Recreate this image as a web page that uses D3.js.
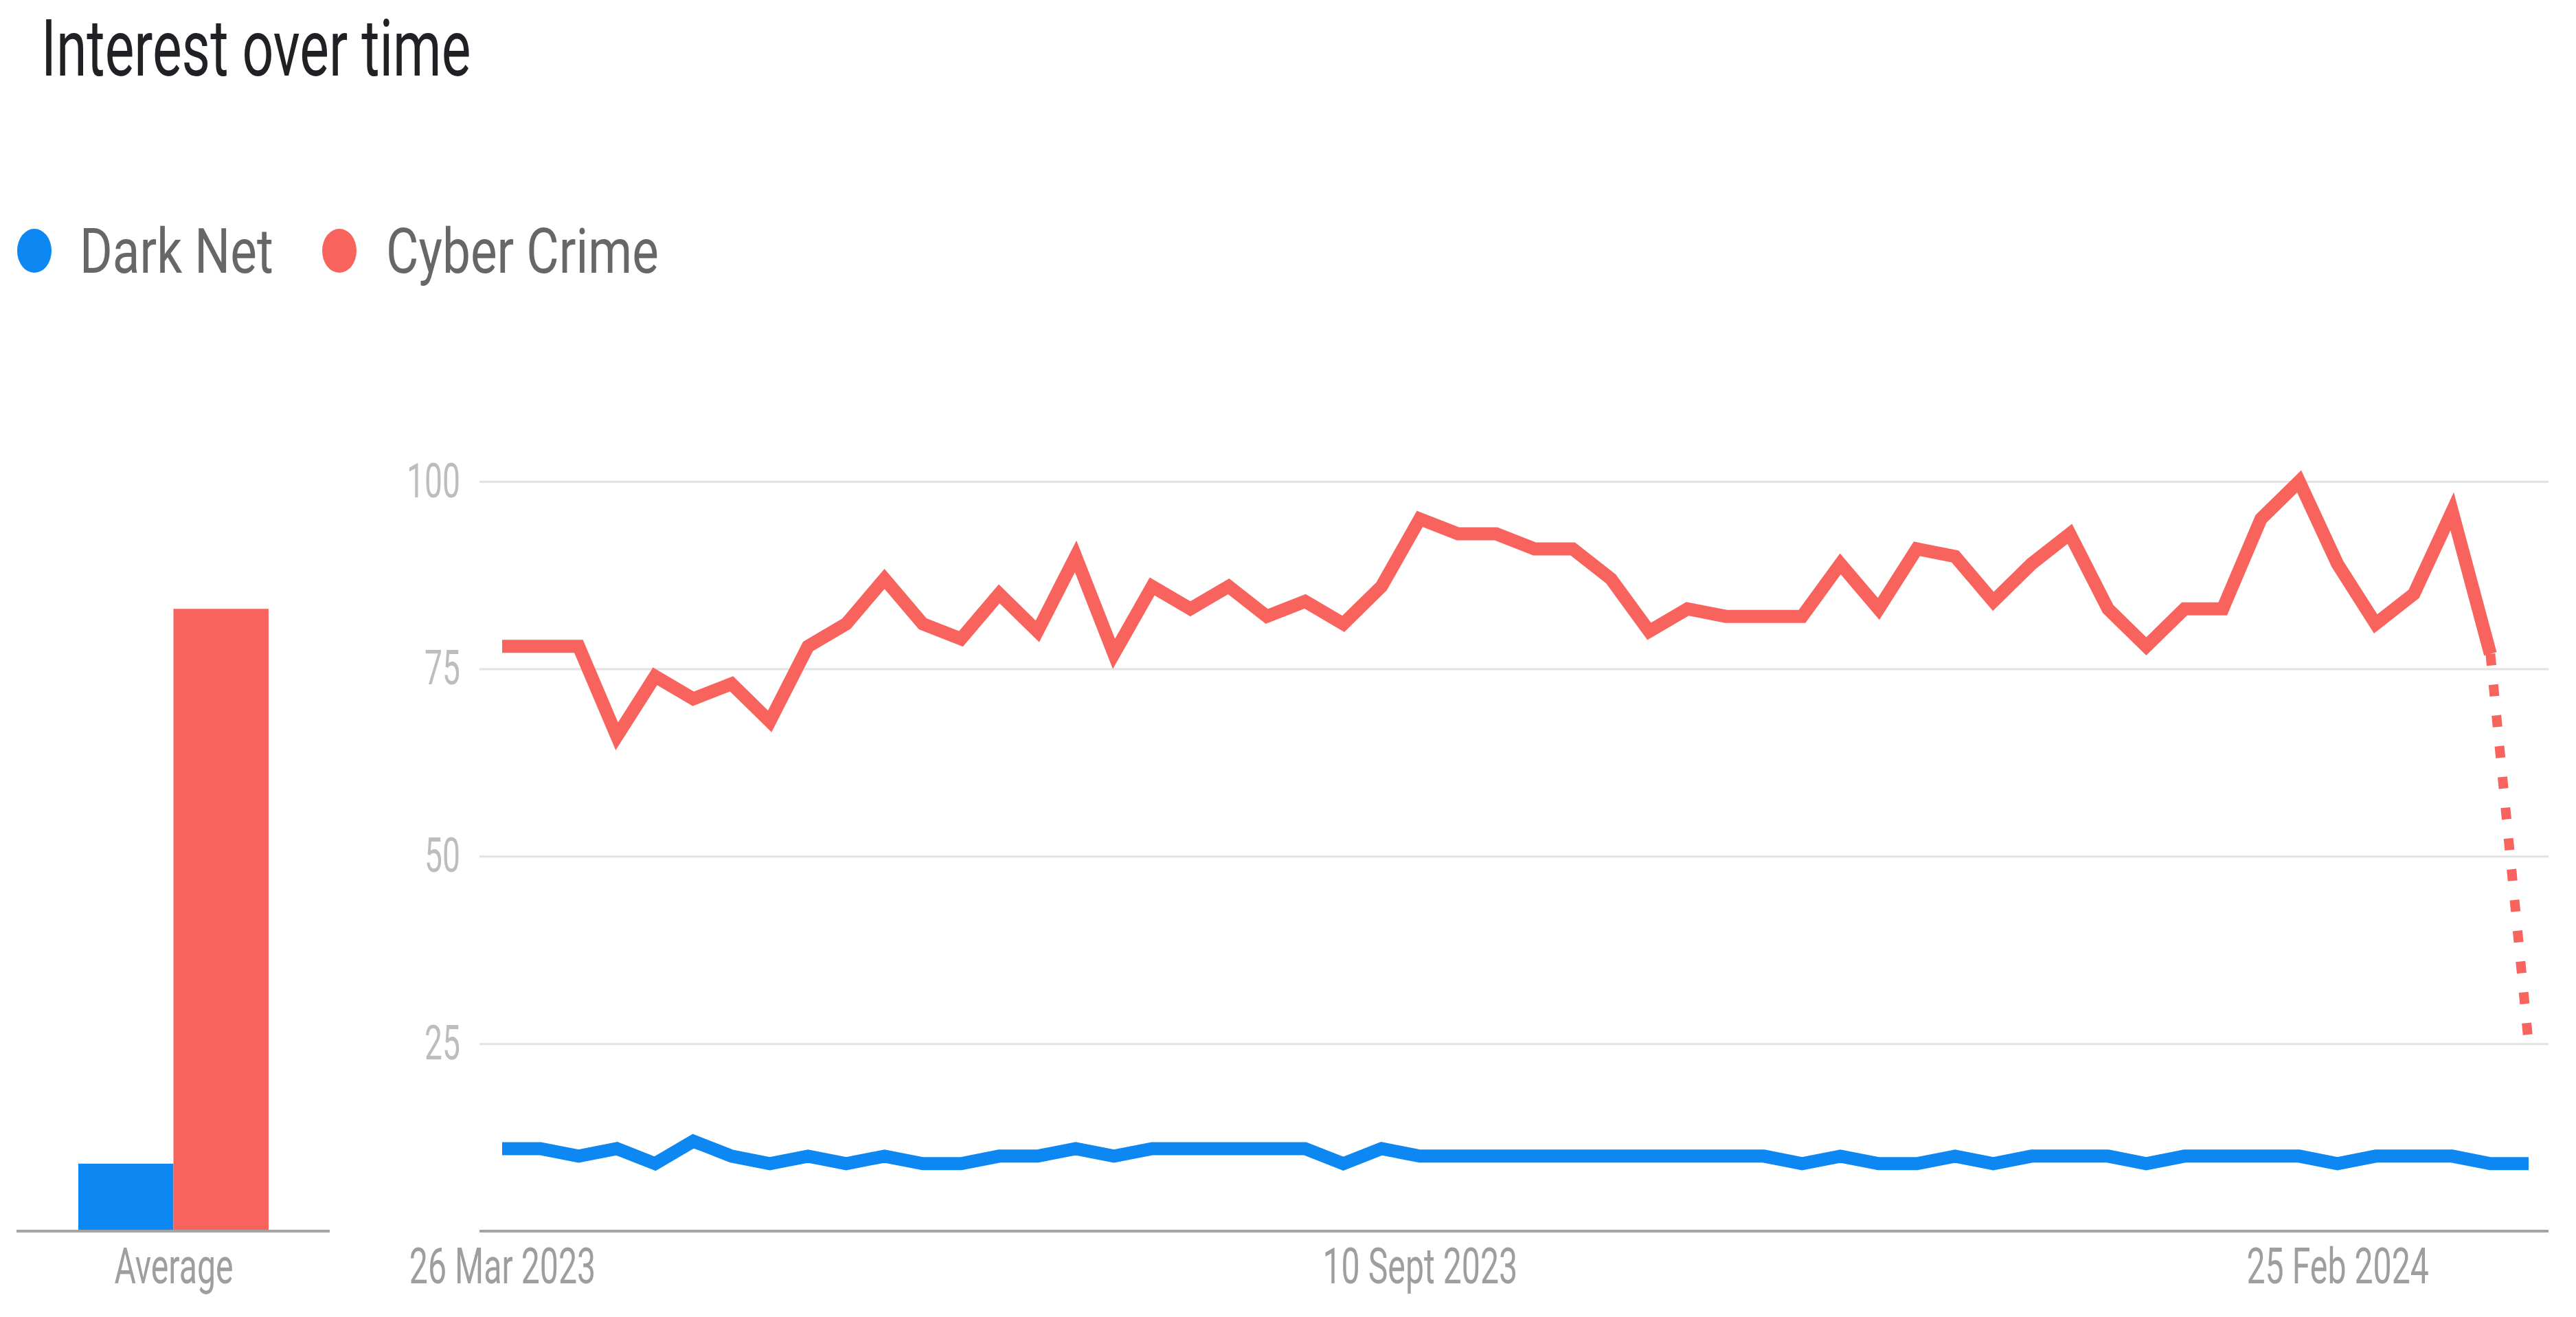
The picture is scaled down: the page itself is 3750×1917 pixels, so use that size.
<!DOCTYPE html>
<html>
<head>
<meta charset="utf-8">
<script src="https://cdn.jsdelivr.net/npm/d3@7"></script>
<style>
  html, body { margin: 0; padding: 0; background: #ffffff; }
  svg { display: block; font-family: Roboto, "Noto Sans", Arial, sans-serif; }
</style>
</head>
<body>
<svg id="chart" width="3750" height="1917"></svg>
<script>
// ---------------- DATA ----------------
const seriesNames = ["Dark Net", "Cyber Crime"];
const seriesColors = ["#0d87f2", "#f8645d"];

const dates = [
  "2023-03-26","2023-04-02","2023-04-09","2023-04-16","2023-04-23","2023-04-30",
  "2023-05-07","2023-05-14","2023-05-21","2023-05-28","2023-06-04","2023-06-11",
  "2023-06-18","2023-06-25","2023-07-02","2023-07-09","2023-07-16","2023-07-23",
  "2023-07-30","2023-08-06","2023-08-13","2023-08-20","2023-08-27","2023-09-03",
  "2023-09-10","2023-09-17","2023-09-24","2023-10-01","2023-10-08","2023-10-15",
  "2023-10-22","2023-10-29","2023-11-05","2023-11-12","2023-11-19","2023-11-26",
  "2023-12-03","2023-12-10","2023-12-17","2023-12-24","2023-12-31","2024-01-07",
  "2024-01-14","2024-01-21","2024-01-28","2024-02-04","2024-02-11","2024-02-18",
  "2024-02-25","2024-03-03","2024-03-10","2024-03-17","2024-03-24","2024-03-31"
];

const darkNet = [
  11,11,10,11,9,12,10,9,10,9,10,9,9,10,10,11,10,11,11,11,11,11,9,11,
  10,10,10,10,10,10,10,10,10,10,9,10,9,9,10,9,10,10,10,9,10,10,10,10,
  9,10,10,10,9,9
];

const cyberCrime = [
  78,78,78,66,74,71,73,68,78,81,87,81,79,85,80,90,77,86,83,86,82,84,81,86,
  95,93,93,91,91,87,80,83,82,82,82,89,83,91,90,84,89,93,83,78,83,83,95,100,
  89,81,85,96,77,25
];

// index of the last complete week (after it the line is drawn dotted)
const lastCompleteIndex = 52;

const averageLabel = "Average";
const averages = [9, 83];

const yTicks = [25, 50, 75, 100];
const xTickDates = ["2023-03-26", "2023-09-10", "2024-02-25"];
const xTickLabels = ["26 Mar 2023", "10 Sept 2023", "25 Feb 2024"];

const titleText = "Interest over time";

// ---------------- DRAW ----------------
const svg = d3.select("#chart");
const parse = d3.timeParse("%Y-%m-%d");

// horizontal squeeze helper (reference text is condensed)
function squeeze(sel, k) {
  sel.each(function() {
    const w = this.getComputedTextLength();
    d3.select(this).attr("textLength", w * k).attr("lengthAdjust", "spacingAndGlyphs");
  });
}

// Title
svg.append("text")
  .attr("x", 60).attr("y", 110)
  .attr("font-size", 115)
  .attr("fill", "#202124")
  .text(titleText)
  .call(squeeze, 0.70);

// Legend
const legendPos = [{cx: 50, tx: 116}, {cx: 494, tx: 562}];
const legend = svg.append("g");
seriesNames.forEach((name, i) => {
  legend.append("ellipse")
    .attr("cx", legendPos[i].cx).attr("cy", 365)
    .attr("rx", 25).attr("ry", 32)
    .attr("fill", seriesColors[i]);
  legend.append("text")
    .attr("x", legendPos[i].tx).attr("y", 397)
    .attr("font-size", 90)
    .attr("fill", "#676767")
    .text(name)
    .call(squeeze, 0.81);
});

// Shared y scale
const y = d3.scaleLinear().domain([0, 100]).range([1792, 700.7]);

// ---- Left: average bars ----
const xb = d3.scaleBand().domain(seriesNames).range([114, 391]).padding(0);
svg.append("g").selectAll("rect")
  .data(averages)
  .join("rect")
  .attr("x", (d, i) => xb(seriesNames[i]))
  .attr("width", xb.bandwidth())
  .attr("y", d => y(d))
  .attr("height", d => y(0) - y(d))
  .attr("fill", (d, i) => seriesColors[i]);

svg.append("line")
  .attr("x1", 24).attr("x2", 480)
  .attr("y1", y(0)).attr("y2", y(0))
  .attr("stroke", "#a3a3a3").attr("stroke-width", 4);

svg.append("text")
  .attr("x", 253).attr("y", 1868)
  .attr("text-anchor", "middle")
  .attr("font-size", 72)
  .attr("fill", "#9e9e9e")
  .text(averageLabel)
  .call(squeeze, 0.67);

// ---- Right: time series ----
const plotLeft = 698, plotRight = 3710;
const x = d3.scaleTime()
  .domain([parse(dates[0]), parse(dates[dates.length - 1])])
  .range([731, 3681]);

// y axis / gridlines
const yAxis = d3.axisLeft(y)
  .tickValues(yTicks)
  .tickSize(-(plotRight - plotLeft))
  .tickPadding(28);
const gy = svg.append("g")
  .attr("transform", `translate(${plotLeft},0)`)
  .call(yAxis);
gy.select(".domain").remove();
gy.selectAll(".tick line").attr("stroke", "#e2e2e2").attr("stroke-width", 3);
gy.selectAll(".tick text")
  .attr("font-size", 70)
  .attr("font-family", "Roboto, 'Noto Sans', Arial, sans-serif")
  .attr("fill", "#bdbdbd")
  .call(squeeze, 0.66);

// x axis
const xAxis = d3.axisBottom(x)
  .tickValues(xTickDates.map(parse))
  .tickFormat((d, i) => xTickLabels[i])
  .tickSize(0)
  .tickPadding(25);
const gx = svg.append("g")
  .attr("transform", `translate(0,${y(0)})`)
  .call(xAxis);
gx.select(".domain").remove();
gx.selectAll(".tick text")
  .attr("font-size", 72)
  .attr("font-family", "Roboto, 'Noto Sans', Arial, sans-serif")
  .attr("fill", "#9e9e9e")
  .call(squeeze, 0.67);

svg.append("line")
  .attr("x1", plotLeft).attr("x2", plotRight)
  .attr("y1", y(0)).attr("y2", y(0))
  .attr("stroke", "#a3a3a3").attr("stroke-width", 4);

// lines
const darkData = dates.map((d, i) => ({date: parse(d), v: darkNet[i]}));
const cyberData = dates.map((d, i) => ({date: parse(d), v: cyberCrime[i]}));
const line = d3.line().x(d => x(d.date)).y(d => y(d.v));

svg.append("path")
  .datum(darkData)
  .attr("d", line)
  .attr("fill", "none")
  .attr("stroke", seriesColors[0])
  .attr("stroke-width", 19)
  .attr("stroke-linejoin", "miter");

svg.append("path")
  .datum(cyberData.slice(0, lastCompleteIndex + 1))
  .attr("d", line)
  .attr("fill", "none")
  .attr("stroke", seriesColors[1])
  .attr("stroke-width", 19)
  .attr("stroke-linejoin", "miter");

svg.append("path")
  .datum(cyberData.slice(lastCompleteIndex))
  .attr("d", line)
  .attr("fill", "none")
  .attr("stroke", seriesColors[1])
  .attr("stroke-width", 14)
  .attr("stroke-dasharray", "17,28");
</script>
</body>
</html>
